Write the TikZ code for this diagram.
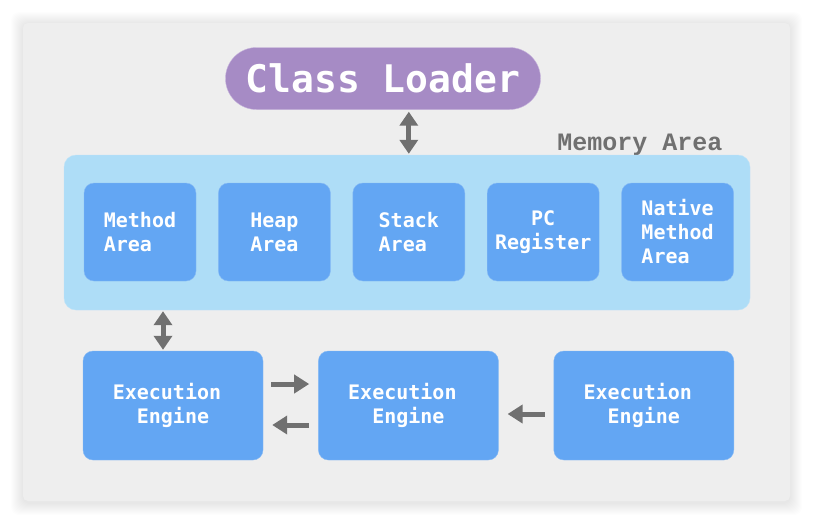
\documentclass[tikz,border=0pt]{standalone}
\usepackage{fontspec}
\setmonofont{DejaVu Sans Mono}
\newfontfamily\labelmono{Liberation Mono}
\usetikzlibrary{positioning,arrows.meta}
\definecolor{panelgray}{HTML}{EEEEEE}
\definecolor{memblue}{HTML}{AEDDF7}
\definecolor{memedge}{HTML}{BFE3F8}
\definecolor{areablue}{HTML}{63A6F3}
\definecolor{areaedge}{HTML}{86BAF5}
\definecolor{loaderpurple}{HTML}{A68BC5}
\definecolor{loaderedge}{HTML}{C6B3DC}
\definecolor{arrowgray}{HTML}{707070}

\begin{document}
\begin{tikzpicture}[x=1pt,y=-1pt,node distance=22pt,
    area/.style={draw=areaedge,fill=areablue,rounded corners=10pt,minimum width=112pt,minimum height=98pt,align=left,text=white,inner sep=0pt,font=\fontsize{20}{24}\selectfont\ttfamily\bfseries},
    engine/.style={area,minimum width=180pt,minimum height=109pt,align=center},
    link/.style={draw=arrowgray,line width=5pt,-{Triangle[width=18pt,length=15pt]}},
    dbl/.style={link,{Triangle[width=18pt,length=14pt]}-{Triangle[width=18pt,length=14pt]}}]
    \useasboundingbox (0,0) rectangle (818,528);
    \foreach \s in {1,...,12}
        \fill[black,opacity=0.007,rounded corners=8pt] (23-\s,24-\s) rectangle (790+\s,503+\s);
    \fill[panelgray,rounded corners=5pt] (23,23) rectangle (790,501);

    \node[draw=loaderedge,fill=loaderpurple,rounded corners=31pt,minimum width=315pt,minimum height=62pt,text=white,font=\fontsize{38}{40}\selectfont\ttfamily\bfseries] (loader) at (383,78.5) {Class Loader};
    \node[anchor=base east,text=arrowgray,font=\fontsize{25}{27}\selectfont\labelmono\bfseries] (memlabel) at (726,150) {Memory Area};
    \node[draw=memedge,fill=memblue,rounded corners=12pt,minimum width=686pt,minimum height=155pt] (mem) at (407,232.5) {};

    \node[area] (method) at (140,232) {Method\\Area};
    \node[area,right=of method] (heap) {Heap\\Area};
    \node[area,right=of heap] (stack) {Stack\\Area};
    \node[area,right=of stack,align=center] (pc) {PC\\Register};
    \node[area,right=of pc] (native) {Native\\Method\\Area};

    \node[engine] (exec1) at (173,405.5) {Execution\phantom{x}\\Engine};
    \node[engine,right=55pt of exec1] (exec2) {Execution\phantom{x}\\Engine};
    \node[engine,right=55pt of exec2] (exec3) {Execution\phantom{x}\\Engine};

    \draw[dbl,shorten <=2pt,shorten >=1pt] (loader.south -| stack) -- (stack |- mem.north);
    \coordinate (tap) at ([xshift=-10pt]exec1.north);
    \draw[dbl,shorten <=1pt,shorten >=1pt] (tap |- mem.south) -- (tap);
    \draw[link,shorten <=8pt,shorten >=9pt] ([yshift=21.5pt]exec1.east) -- ([yshift=21.5pt]exec2.west);
    \draw[link,shorten <=9pt,shorten >=9pt] ([yshift=-19.5pt]exec2.west) -- ([yshift=-19.5pt]exec1.east);
    \draw[link,shorten <=9pt,shorten >=9pt] ([yshift=-8.5pt]exec3.west) -- ([yshift=-8.5pt]exec2.east);
\end{tikzpicture}
\end{document}
